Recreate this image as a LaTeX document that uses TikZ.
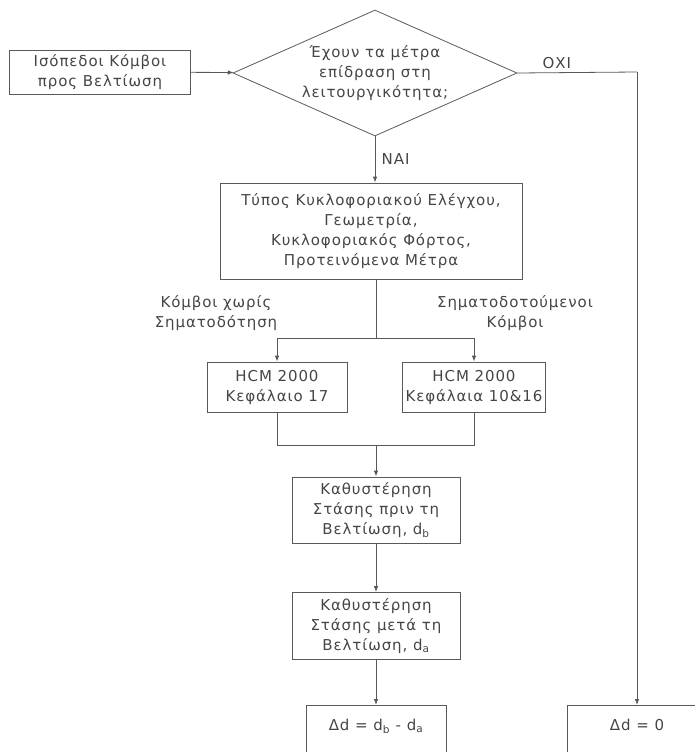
\documentclass[tikz,border=0pt]{standalone}
\usepackage{fontspec}
\setmainfont[LetterSpace=6]{DejaVu Sans}
\usetikzlibrary{arrows.meta}
\usetikzlibrary{shapes.geometric}
\usetikzlibrary{positioning}
\tikzset{box/.style = {draw, align=center, inner sep=3pt},
         arr/.style = {-{Latex[length=6pt, width=4.5pt]}}}
\definecolor{lgrey}{rgb}{0.35, 0.35, 0.35}
\definecolor{tgrey}{rgb}{0.27, 0.27, 0.27}

\begin{document}
\begin{tikzpicture}[x=1pt, y=-1pt, line width=0.8pt, color=lgrey, text=tgrey,
                    font=\fontsize{15}{20}\selectfont]
    \useasboundingbox (0, 0) rectangle (695, 752);
    \clip (0, 0) rectangle (695, 752);

    \node [box, minimum width=181pt, minimum height=44pt] (start) at (100, 72)
          {Ισόπεδοι Κόμβοι\\προς Βελτίωση};
    \node [draw, diamond, shape aspect=2.25, inner sep=0pt, align=center,
           minimum width=284pt, minimum height=126pt] (quest) at (375, 73)
          {Έχουν τα μέτρα\\επίδραση στη\\λειτουργικότητα;};
    \coordinate (turn) at (637, 72);

    \node [box, minimum width=302pt, minimum height=96pt] (params) at (371, 231)
          {Τύπος Κυκλοφοριακού Ελέγχου,\\Γεωμετρία,\\Κυκλοφοριακός Φόρτος,\\Προτεινόμενα Μέτρα};
    \coordinate (split) at (376, 338);
    \node [align=center] (unsig) at (216, 313) {Κόμβοι χωρίς\\Σηματοδότηση};
    \node [align=center] (sig) at (515, 313) {Σηματοδοτούμενοι\\Κόμβοι};

    \node [box, minimum width=140pt, minimum height=50pt] (hcmA) at (277, 387)
          {HCM 2000\\Κεφάλαιο 17};
    \node [box, minimum width=138pt, minimum height=50pt] (hcmB) at (474, 387)
          {HCM 2000\\Κεφάλαια 10\&16};
    \coordinate (join) at (376, 445);

    \node [box, minimum width=168pt, minimum height=66pt] (before) at (376, 510)
          {Καθυστέρηση\\Στάσης πριν τη\\Βελτίωση, d\textsubscript{b}};
    \node [box, minimum width=168pt, minimum height=67pt] (after) at (376, 626)
          {Καθυστέρηση\\Στάσης μετά τη\\Βελτίωση, d\textsubscript{a}};

    \node [box, anchor=north, minimum width=140pt, text height=22pt, text depth=40pt]
          (gain) at (376, 705) {Δd = d\textsubscript{b} - d\textsubscript{a}};
    \node [box, anchor=north, minimum width=140pt, text height=22pt, text depth=40pt]
          (nogain) at (637, 705) {Δd = 0};

    \draw [arr] (start) -- (quest);
    \draw (quest.east) -- (turn) node [pos=0.33, above] {ΟΧΙ};
    \draw [arr] (turn) -- (nogain);
    \draw [arr] (quest.south) -- (quest.south |- params.north)
          node [pos=0.5, right, xshift=3pt] {ΝΑΙ};

    \draw (params.south -| split) -- (split);
    \draw [arr] (split) -| (hcmA);
    \draw [arr] (split) -| (hcmB);
    \draw (hcmA) |- (join);
    \draw (hcmB) |- (join);
    \draw [arr] (join) -- (before);
    \draw [arr] (before) -- (after);
    \draw [arr] (after) -- (gain);
  \end{tikzpicture}
\end{document}
